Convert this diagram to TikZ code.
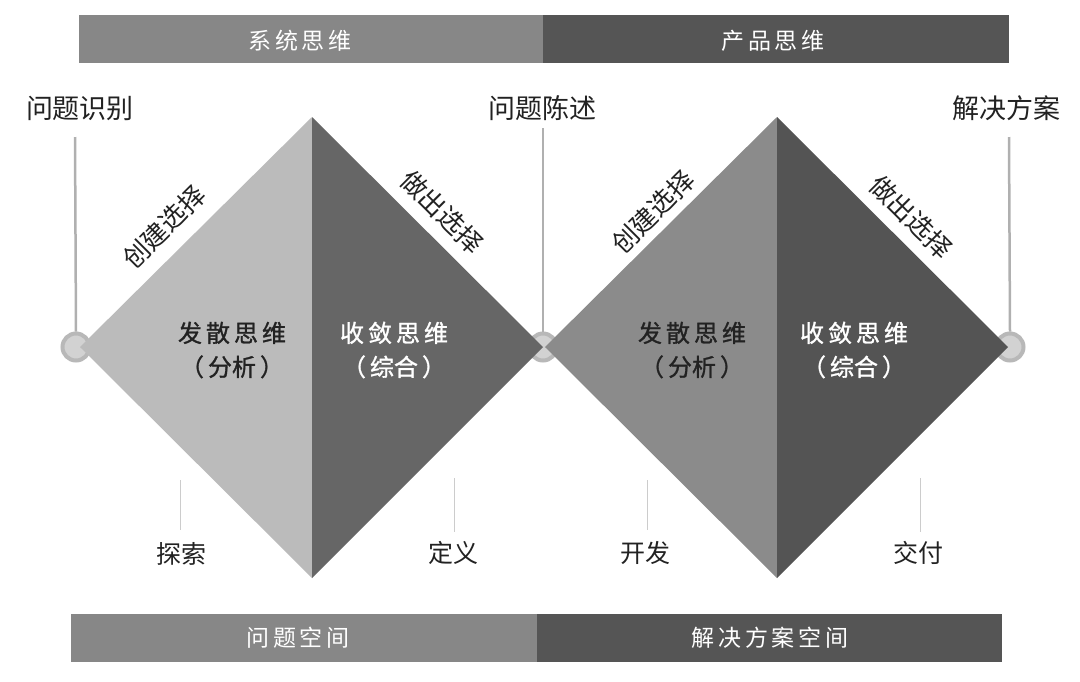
\documentclass[tikz,border=0pt]{standalone}
\usepackage{fontspec}
\setmainfont{Noto Sans CJK SC}
\newfontfamily\cjk{Noto Sans CJK SC}
\newfontfamily\cjkmed[FakeBold=1.2]{Noto Sans CJK SC}
\definecolor{barA}{HTML}{878787}
\definecolor{barB}{HTML}{555555}
\definecolor{dA}{HTML}{BBBBBB}
\definecolor{dB}{HTML}{666666}
\definecolor{dC}{HTML}{8B8B8B}
\definecolor{dD}{HTML}{545454}
\definecolor{ringc}{HTML}{B8B8B8}
\definecolor{ringin}{HTML}{D2D2D2}
\definecolor{stemc}{HTML}{B0B0B0}
\definecolor{txt}{HTML}{222222}
\begin{document}
\begin{tikzpicture}[x=1pt,y=-1pt,
  bar/.style={minimum height=48pt,inner sep=0pt},
  bartext/.style={text=white,font=\cjk\fontsize{23}{25}\selectfont,inner sep=0pt},
  toplab/.style={text=txt,font=\cjk\fontsize{27}{30}\selectfont,inner sep=0pt},
  botlab/.style={text=txt,font=\cjk\fontsize{25}{28}\selectfont,inner sep=0pt},
  inner/.style={font=\cjkmed\fontsize{24}{34}\selectfont,align=center,inner sep=0pt},
  diag/.style={text=txt,font=\cjk\fontsize{26}{28}\selectfont,inner sep=0pt},
  ring/.style={circle,draw=ringc,line width=4pt,fill=ringin,minimum size=27pt,inner sep=0pt},
  stem/.style={draw=stemc,line width=2.5pt},
  tick/.style={draw=black!20,line width=0.8pt}]
\useasboundingbox (0,0) rectangle (1080,681);
\fill[white] (0,0) rectangle (1080,681);

% top bars
\node[bar,fill=barA,minimum width=464pt] (sys) at (311,39) {};
\node[bar,fill=barB,minimum width=466pt] (prod) at (776,39) {};
\node[bartext] (syst) at (300,41) {系\,统\,思\,维};
\node[bartext] (prodt) at (773,41) {产\,品\,思\,维};
% bottom bars
\node[bar,fill=barA,minimum width=466pt] (pspace) at (304,637.5) {};
\node[bar,fill=barB,minimum width=465pt] (sspace) at (769.5,637.5) {};
\node[bartext] (pspacet) at (298,638) {问\,题\,空\,间};
\node[bartext] (sspacet) at (770,638) {解\,决\,方\,案\,空\,间};

% rings
\node[ring] (r1) at (76,347) {};
\node[ring] (r2) at (543,347) {};
\node[ring] (r3) at (1010,347) {};

% diamonds
\fill[dA] (80,347) -- (312,117) -- (312,578) -- cycle;
\fill[dB] (312,117) -- (543,347) -- (312,578) -- cycle;
\fill[dC] (545,347) -- (777,117) -- (777,578) -- cycle;
\fill[dD] (777,117) -- (1008,347) -- (777,578) -- cycle;

% top labels
\node[toplab] (l1) at (80,108) {问题识别};
\node[toplab] (l2) at (542,108) {问题陈述};
\node[toplab] (l3) at (1006,108) {解决方案};
\coordinate (s1) at (75,137);
\coordinate (s2) at (543,128);
\coordinate (s3) at (1009,137);
\draw[stem] (s1) -- (r1.north);
\draw[stem] (s2) -- (r2.north);
\draw[stem] (s3) -- (r3.north);

% inner texts
\node[inner,text=txt] (t1) at (232,350) {发\,散\,思\,维\\（\,分析\,）};
\node[inner,text=white] (t2) at (394,350) {收\,敛\,思\,维\\（\,综合\,）};
\node[inner,text=txt] (t3) at (692,350) {发\,散\,思\,维\\（\,分析\,）};
\node[inner,text=white] (t4) at (854,350) {收\,敛\,思\,维\\（\,综合\,）};

% diagonal labels
\node[diag,rotate=45] (d1) at (164,227) {创建选择};
\node[diag,rotate=-45] (d2) at (442,212) {做出选择};
\node[diag,rotate=45] (d3) at (653,212) {创建选择};
\node[diag,rotate=-45] (d4) at (911,217) {做出选择};

% bottom labels
\node[botlab] (b1) at (181,554) {探索};
\node[botlab] (b2) at (453,553) {定义};
\node[botlab] (b3) at (645,553) {开发};
\node[botlab] (b4) at (918,553) {交付};
\coordinate (k1a) at (180,480); \coordinate (k1b) at (180,530);
\coordinate (k2a) at (454,478); \coordinate (k2b) at (454,532);
\coordinate (k3a) at (647,480); \coordinate (k3b) at (647,530);
\coordinate (k4a) at (920,478); \coordinate (k4b) at (920,532);
\draw[tick] (k1a) -- (k1b);
\draw[tick] (k2a) -- (k2b);
\draw[tick] (k3a) -- (k3b);
\draw[tick] (k4a) -- (k4b);
\end{tikzpicture}
\end{document}
